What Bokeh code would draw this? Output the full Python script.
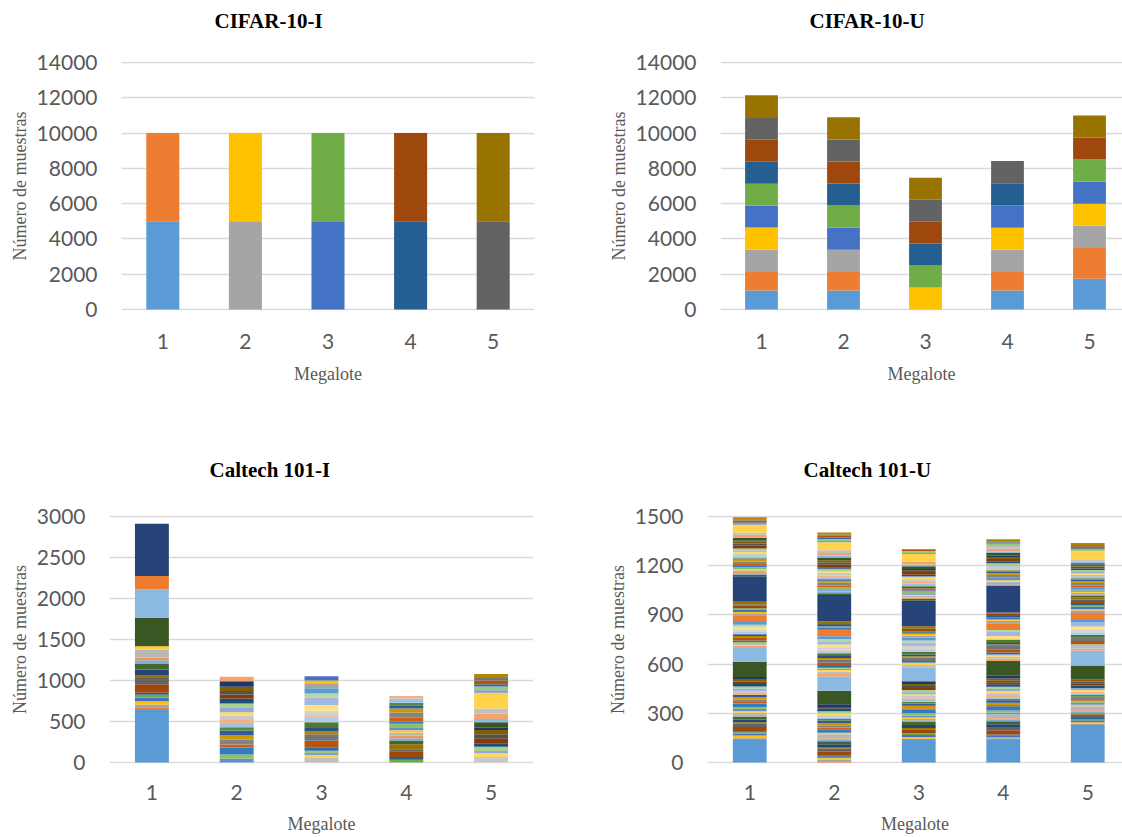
import colorsys
from bokeh.plotting import figure
from bokeh.models import ColumnDataSource, Range1d, FixedTicker
from bokeh.layouts import row, column
from bokeh.embed import file_html
from bokeh.resources import INLINE

# ---------------------------------------------------------------- data
megalotes = [1, 2, 3, 4, 5]

cifar_classes = ["airplane", "automobile", "bird", "cat", "deer",
                 "dog", "frog", "horse", "ship", "truck"]

# CIFAR-10-I: samples of each class (cifar_classes order) in each megalote
cifar_i_m1 = [5000, 5000, 0, 0, 0, 0, 0, 0, 0, 0]
cifar_i_m2 = [0, 0, 5000, 5000, 0, 0, 0, 0, 0, 0]
cifar_i_m3 = [0, 0, 0, 0, 5000, 5000, 0, 0, 0, 0]
cifar_i_m4 = [0, 0, 0, 0, 0, 0, 5000, 5000, 0, 0]
cifar_i_m5 = [0, 0, 0, 0, 0, 0, 0, 0, 5000, 5000]

# CIFAR-10-U
cifar_u_m1 = [1070, 1060, 1260, 1260, 1230, 1250, 1240, 1250, 1240, 1280]
cifar_u_m2 = [1070, 1060, 1260, 0, 1250, 1250, 1250, 1250, 1250, 1260]
cifar_u_m3 = [0, 0, 0, 1245, 0, 1245, 1245, 1245, 1245, 1245]
cifar_u_m4 = [1070, 1060, 1260, 1250, 1250, 0, 1260, 0, 1260, 0]
cifar_u_m5 = [1740, 1750, 1250, 1250, 1250, 1260, 0, 1250, 0, 1250]

caltech_classes = [
    "airplanes", "anchor", "ant", "barrel", "bass", "beaver", "binocular", "bonsai", "brain", "brontosaurus",
    "buddha", "butterfly", "camera", "cannon", "car_side", "ceiling_fan", "cellphone", "chair", "chandelier", "cougar_body",
    "cougar_face", "crab", "crayfish", "crocodile", "crocodile_head", "cup", "dalmatian", "dollar_bill", "dolphin", "dragonfly",
    "electric_guitar", "elephant", "emu", "euphonium", "ewer", "Faces", "Faces_easy", "ferry", "flamingo", "flamingo_head",
    "garfield", "gerenuk", "gramophone", "grand_piano", "hawksbill", "headphone", "hedgehog", "helicopter", "ibis", "inline_skate",
    "joshua_tree", "kangaroo", "ketch", "lamp", "laptop", "Leopards", "llama", "lobster", "lotus", "mandolin",
    "mayfly", "menorah", "metronome", "minaret", "Motorbikes", "nautilus", "octopus", "okapi", "pagoda", "panda",
    "pigeon", "pizza", "platypus", "pyramid", "revolver", "rhino", "rooster", "saxophone", "schooner", "scissors",
    "scorpion", "sea_horse", "snoopy", "soccer_ball", "stapler", "starfish", "stegosaurus", "stop_sign", "strawberry", "sunflower",
    "tick", "trilobite", "umbrella", "watch", "water_lilly", "wheelchair", "wild_cat", "windsor_chair", "wrench", "yin_yang"]

# Caltech 101-I: training samples per class and the megalote holding it
caltech_train_counts = [
    640, 34, 34, 38, 43, 37, 26, 102, 78, 34,
    68, 73, 40, 34, 98, 38, 47, 50, 86, 38,
    55, 58, 56, 40, 41, 46, 54, 42, 52, 54,
    60, 51, 42, 51, 68, 348, 348, 54, 54, 36,
    27, 27, 41, 79, 80, 34, 43, 70, 64, 25,
    51, 69, 91, 49, 65, 160, 62, 33, 53, 34,
    32, 70, 26, 61, 638, 44, 28, 31, 38, 30,
    36, 42, 27, 46, 66, 47, 39, 32, 50, 31,
    67, 46, 28, 51, 36, 69, 47, 51, 28, 68,
    39, 69, 60, 191, 30, 47, 27, 45, 31, 48]
caltech_i_megalote = [
    1, 1, 1, 1, 1, 1, 1, 1, 1, 1,
    1, 1, 1, 1, 1, 1, 2, 2, 2, 2,
    2, 2, 2, 2, 2, 2, 2, 2, 2, 2,
    2, 2, 2, 2, 2, 1, 1, 2, 3, 3,
    3, 3, 3, 3, 3, 3, 3, 3, 3, 3,
    3, 3, 3, 3, 3, 1, 3, 3, 3, 4,
    4, 4, 4, 4, 1, 4, 4, 4, 4, 4,
    4, 4, 4, 4, 4, 4, 4, 4, 4, 4,
    5, 5, 5, 5, 5, 5, 5, 5, 5, 5,
    5, 5, 5, 5, 5, 5, 5, 5, 5, 5]

# Caltech 101-U: samples of each class (caltech_classes order) in each megalote
caltech_u_m1 = [
    137, 9, 8, 10, 11, 9, 7, 26, 20, 8,
    17, 18, 0, 0, 24, 10, 12, 12, 22, 9,
    14, 15, 14, 0, 0, 12, 14, 0, 13, 13,
    15, 13, 0, 13, 17, 92, 84, 13, 0, 9,
    7, 7, 10, 19, 0, 8, 11, 0, 16, 0,
    13, 17, 0, 12, 16, 38, 16, 8, 13, 9,
    0, 18, 7, 15, 156, 11, 7, 8, 10, 8,
    0, 11, 7, 12, 15, 12, 0, 8, 13, 0,
    15, 12, 7, 13, 0, 17, 12, 13, 7, 17,
    0, 17, 13, 48, 8, 0, 7, 11, 8, 12]
caltech_u_m2 = [
    0, 8, 9, 9, 0, 9, 6, 25, 19, 9,
    17, 18, 10, 9, 25, 9, 0, 0, 21, 10,
    14, 14, 14, 10, 10, 0, 13, 11, 0, 14,
    15, 0, 10, 0, 17, 82, 88, 15, 14, 10,
    7, 7, 11, 19, 19, 10, 12, 17, 17, 7,
    13, 16, 21, 13, 17, 39, 0, 0, 13, 8,
    8, 0, 6, 15, 162, 11, 7, 0, 9, 0,
    9, 10, 0, 11, 18, 12, 10, 0, 12, 8,
    19, 11, 0, 13, 9, 18, 12, 13, 0, 17,
    10, 17, 17, 49, 8, 12, 7, 12, 8, 12]
caltech_u_m3 = [
    137, 9, 0, 10, 11, 10, 0, 26, 0, 8,
    17, 19, 10, 8, 0, 10, 12, 13, 22, 9,
    0, 15, 14, 10, 11, 11, 14, 10, 13, 13,
    0, 13, 11, 12, 17, 0, 86, 0, 14, 8,
    0, 6, 10, 0, 21, 8, 10, 18, 15, 6,
    12, 0, 23, 12, 16, 0, 15, 8, 0, 8,
    8, 17, 0, 15, 156, 11, 0, 8, 10, 7,
    9, 11, 7, 12, 0, 0, 10, 8, 13, 8,
    16, 12, 7, 0, 9, 17, 11, 0, 7, 17,
    10, 18, 0, 46, 7, 12, 0, 11, 0, 0]
caltech_u_m4 = [
    137, 8, 9, 0, 10, 0, 7, 25, 20, 0,
    17, 18, 10, 9, 24, 0, 11, 12, 21, 0,
    13, 14, 14, 10, 10, 12, 13, 11, 13, 14,
    15, 12, 10, 13, 17, 90, 0, 13, 13, 9,
    6, 0, 10, 21, 20, 8, 10, 18, 0, 6,
    0, 19, 24, 12, 0, 41, 15, 8, 13, 0,
    8, 17, 6, 0, 164, 0, 7, 7, 9, 8,
    9, 0, 6, 0, 17, 11, 10, 8, 0, 7,
    17, 0, 7, 12, 9, 17, 0, 12, 7, 17,
    9, 17, 15, 0, 7, 11, 6, 0, 7, 12]
caltech_u_m5 = [
    229, 0, 8, 9, 11, 9, 6, 0, 19, 9,
    0, 0, 10, 8, 25, 9, 12, 13, 0, 10,
    14, 0, 0, 10, 10, 11, 0, 10, 13, 0,
    15, 13, 11, 13, 0, 84, 90, 13, 13, 0,
    7, 7, 0, 20, 20, 0, 0, 17, 16, 6,
    13, 17, 23, 0, 16, 42, 16, 9, 14, 9,
    8, 18, 7, 16, 0, 11, 7, 8, 0, 7,
    9, 10, 7, 11, 16, 12, 9, 8, 12, 8,
    0, 11, 7, 13, 9, 0, 12, 13, 7, 0,
    10, 0, 15, 48, 0, 12, 7, 11, 8, 12]

# ---------------------------------------------------------------- style
ACCENTS = ["#5B9BD5", "#ED7D31", "#A5A5A5", "#FFC000", "#4472C4", "#70AD47"]
LUM_VARIANTS = [(1.0, 0.0), (0.6, 0.0), (0.8, 0.2), (0.8, 0.0), (0.6, 0.4),
                (0.5, 0.0), (0.7, 0.3), (0.7, 0.0), (0.5, 0.5)]


def office_color(i):
    base = ACCENTS[i % 6]
    mod, off = LUM_VARIANTS[(i // 6) % 9]
    r, g, b = (int(base[k:k + 2], 16) / 255 for k in (1, 3, 5))
    h, l, s = colorsys.rgb_to_hls(r, g, b)
    l = min(1.0, l * mod + off)
    r, g, b = colorsys.hls_to_rgb(h, l, s)
    return "#%02x%02x%02x" % (round(r * 255), round(g * 255), round(b * 255))


GRAY = "#595959"
GRID = "#D9D9D9"
SERIF = "Liberation Serif"
TICKFONT = "Lato"


def stacked_source(per_megalote):
    xs, bottoms, tops, colors = [], [], [], []
    for m, vals in zip(megalotes, per_megalote):
        acc = 0
        for i, v in enumerate(vals):
            if v > 0:
                xs.append(m)
                bottoms.append(acc)
                tops.append(acc + v)
                colors.append(office_color(i))
                acc += v
    return ColumnDataSource(dict(x=xs, bottom=bottoms, top=tops, color=colors))


def make_chart(title, per_megalote, y_max, y_step, width, height,
               mbl, mbr, mbt, mbb, x_end, title_offset, title_standoff,
               tick_standoff, label_standoff, frame_h=249):
    pad = y_max / (frame_h - 2)
    p = figure(width=width, height=height,
               x_range=Range1d(0.5, x_end), y_range=Range1d(-pad, y_max + pad),
               output_backend="svg", toolbar_location=None,
               min_border_left=mbl, min_border_right=mbr,
               min_border_top=mbt, min_border_bottom=mbb,
               title=title + "\n")
    p.vbar(x="x", bottom="bottom", top="top", width=0.4,
           fill_color="color", line_color=None, source=stacked_source(per_megalote))
    p.outline_line_color = None
    p.background_fill_color = "white"
    p.border_fill_color = "white"
    p.xgrid.visible = False
    p.ygrid.grid_line_color = GRID
    p.ygrid.grid_line_width = 1.5
    p.yaxis.ticker = FixedTicker(ticks=list(range(0, y_max + 1, y_step)))
    p.xaxis.ticker = FixedTicker(ticks=megalotes)
    for ax in (p.xaxis[0], p.yaxis[0]):
        ax.axis_line_color = None
        ax.major_tick_line_color = None
        ax.minor_tick_line_color = None
        ax.major_tick_in = 0
        ax.major_tick_out = 0
        ax.minor_tick_in = 0
        ax.minor_tick_out = 0
        ax.major_label_text_font = TICKFONT
        ax.major_label_text_font_size = "21px"
        ax.major_label_text_color = GRAY
        ax.axis_label_text_font = SERIF
        ax.axis_label_text_font_size = "18px"
        ax.axis_label_text_color = GRAY
        ax.axis_label_text_font_style = "normal"
    p.xaxis.axis_label = "Megalote"
    p.yaxis.axis_label = "Número de muestras"
    p.xaxis.major_label_standoff = tick_standoff
    p.yaxis.major_label_standoff = 24
    p.xaxis.axis_label_standoff = label_standoff
    p.yaxis.axis_label_standoff = 4
    p.title.text_font = SERIF
    p.title.text_font_size = "21px"
    p.title.text_font_style = "bold"
    p.title.text_color = "black"
    p.title.align = "left"
    p.title.offset = title_offset
    p.title.vertical_align = "top"
    p.title.standoff = title_standoff
    return p


cifar_i = [cifar_i_m1, cifar_i_m2, cifar_i_m3, cifar_i_m4, cifar_i_m5]
cifar_u = [cifar_u_m1, cifar_u_m2, cifar_u_m3, cifar_u_m4, cifar_u_m5]
caltech_i = [[c if g == m else 0 for c, g in zip(caltech_train_counts, caltech_i_megalote)]
             for m in megalotes]
caltech_u = [caltech_u_m1, caltech_u_m2, caltech_u_m3, caltech_u_m4, caltech_u_m5]

p1 = make_chart("CIFAR-10-I", cifar_i, 14000, 2000, 568, 428,
                121, 34, 61, 118, 5.5, 93, 6, 23, 12)
p2 = make_chart("CIFAR-10-U", cifar_u, 14000, 2000, 554, 428,
                152, 0, 61, 118, 0.5 + 402 / 82, 89, 6, 23, 12)
p3 = make_chart("Caltech 101-I", caltech_i, 3000, 500, 568, 408,
                109, 35, 87, 72, 5.5, 100, 16, 21, 11)
p4 = make_chart("Caltech 101-U", caltech_u, 1500, 300, 554, 408,
                139, 0, 87, 72, 0.5 + 415 / 84.5, 96, 16, 21, 11)

layout = column(row(p1, p2), row(p3, p4))

with open("out.html", "w") as f:
    f.write(file_html(layout, INLINE))
